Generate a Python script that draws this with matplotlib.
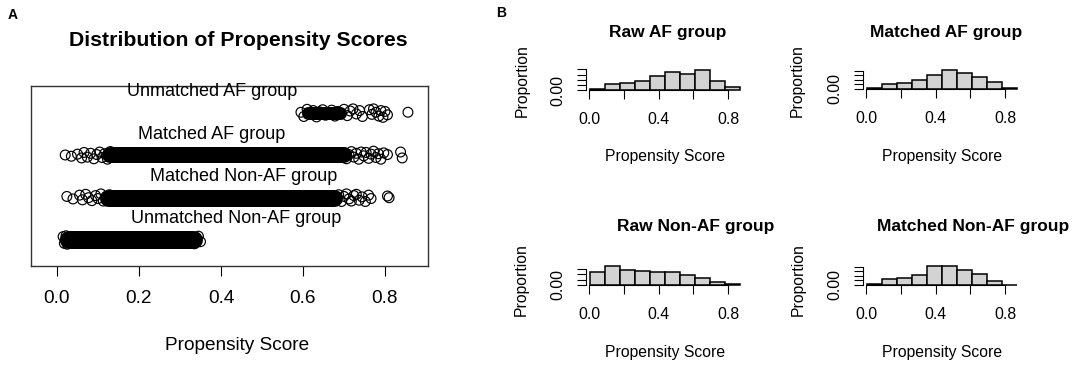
import numpy as np
import matplotlib
matplotlib.use("Agg")
import matplotlib.pyplot as plt

plt.rcParams["font.family"] = ["Liberation Sans", "DejaVu Sans"]

W, H = 1084, 367

# ---- panel A: jittered propensity scores ----
row_names = ["Unmatched Non-AF group", "Matched Non-AF group", "Matched AF group", "Unmatched AF group"]
label_x = [0.437, 0.456, 0.378, 0.378]

# solid (over-plotted) part of each strip, lo/hi
un_core = (0.03, 0.335)
mn_core = (0.125, 0.675)
ma_core = (0.13, 0.70)
ua_core = (0.612, 0.69)

# single circles that can still be told apart
un_x = [0.015, 0.018, 0.02, 0.022, 0.025, 0.33, 0.335, 0.34, 0.345, 0.35]
un_jit = [0.08, -0.08, 0.0, 0.1, -0.1, 0.07, -0.09, 0.02, 0.09, -0.04]

mn_x = [0.024, 0.039, 0.055, 0.062, 0.07, 0.077, 0.085, 0.094, 0.1, 0.107, 0.113, 0.12, 0.128, 0.136,
        0.68, 0.687, 0.694, 0.7, 0.706, 0.712, 0.718, 0.724, 0.73, 0.737, 0.744, 0.752, 0.76, 0.766,
        0.806, 0.81]
mn_jit = [0.03, -0.03, 0.06, -0.05, 0.08, 0.0, -0.07, 0.05, -0.02, 0.09, -0.08, 0.03, 0.07, -0.04,
          -0.05, 0.07, -0.09, 0.03, 0.09, -0.03, -0.08, 0.05, 0.08, -0.06, 0.02, -0.09, 0.06, -0.02,
          0.04, 0.0]

ma_x = [0.02, 0.035, 0.05, 0.06, 0.066, 0.074, 0.082, 0.09, 0.097, 0.104, 0.11, 0.116, 0.123, 0.13,
        0.137, 0.145,
        0.70, 0.706, 0.712, 0.718, 0.724, 0.73, 0.736, 0.742, 0.748, 0.754, 0.76, 0.766, 0.772, 0.778,
        0.784, 0.79, 0.797, 0.806, 0.838, 0.842]
ma_jit = [0.01, -0.02, 0.03, -0.06, 0.07, -0.04, 0.05, -0.08, 0.02, 0.08, -0.05, 0.04, -0.09, 0.09,
          -0.02, 0.06,
          0.06, -0.08, 0.02, 0.09, -0.04, 0.05, -0.09, 0.08, -0.01, 0.07, -0.07, 0.03, 0.1, -0.05,
          0.04, -0.09, 0.06, 0.02, 0.08, -0.06]

ua_x = [0.595, 0.602, 0.61, 0.618, 0.625, 0.633, 0.64, 0.648, 0.655, 0.662, 0.67, 0.678, 0.685, 0.692,
        0.70, 0.708, 0.715, 0.722, 0.73, 0.738, 0.745, 0.762, 0.768, 0.772, 0.778, 0.785, 0.79, 0.795,
        0.80, 0.806, 0.856]
ua_jit = [0.02, -0.08, 0.09, -0.03, 0.06, -0.09, 0.03, 0.08, -0.05, 0.0, 0.07, -0.07, 0.04, -0.02,
          0.09, -0.06, 0.05, 0.1, -0.02, 0.06, -0.08, 0.08, -0.03, 0.1, 0.02, -0.07, 0.06, -0.1,
          0.04, -0.04, 0.02]

# ---- panel B: histograms (proportion per bin) ----
bin_edges = [0.007, 0.093, 0.179, 0.264, 0.350, 0.436, 0.522, 0.607, 0.693, 0.779, 0.865]
raw_af = [0.013, 0.055, 0.065, 0.091, 0.133, 0.179, 0.156, 0.192, 0.091, 0.026]
matched_af = [0.011, 0.058, 0.069, 0.102, 0.156, 0.207, 0.178, 0.131, 0.080, 0.007]
raw_nonaf = [0.123, 0.176, 0.139, 0.130, 0.120, 0.120, 0.090, 0.068, 0.028, 0.006]
matched_nonaf = [0.014, 0.065, 0.076, 0.109, 0.207, 0.207, 0.163, 0.116, 0.040, 0.004]


def px_axes(fig, left, top, right, bottom):
    return fig.add_axes([left / W, 1 - bottom / H, (right - left) / W, (bottom - top) / H])


def ftext(fig, x, y, s, **kw):
    fig.text(x / W, 1 - y / H, s, ha="center", va="center", **kw)


def stripPanel(fig):
    ax = px_axes(fig, 31, 86, 428, 266)
    ax.set_xlim(-0.0634, 0.9049)
    ax.set_ylim(0.385, 4.641)

    cores = [un_core, mn_core, ma_core, ua_core]
    thick = [18, 17, 16, 13]  # px
    pts = [(un_x, un_jit), (mn_x, mn_jit), (ma_x, ma_jit), (ua_x, ua_jit)]
    for i in range(4):
        row = i + 1
        lo, hi = cores[i]
        ax.plot([lo, hi], [row, row], color="black", lw=thick[i] * 0.72, solid_capstyle="round")
        xs, js = pts[i]
        ax.scatter(xs, row + np.array(js), s=50, facecolors="none", edgecolors="black", linewidths=0.85)
        ax.text(label_x[i], row + 0.5, row_names[i], ha="center", va="center", fontsize=13)

    ax.set_xticks([0, 0.2, 0.4, 0.6, 0.8])
    ax.set_xticklabels(["0.0", "0.2", "0.4", "0.6", "0.8"])
    ax.set_yticks([])
    ax.tick_params(axis="x", length=7.2, width=0.8, labelsize=13.7, pad=10)
    for s in ax.spines.values():
        s.set_linewidth(1.0)
        s.set_color("#333333")

    ftext(fig, 238, 40, "Distribution of Propensity Scores", fontsize=15.3, fontweight="bold")
    ftext(fig, 237, 345, "Propensity Score", fontsize=13.7)
    ftext(fig, 12.5, 15, "A", fontsize=10, fontweight="bold")


def histPanel(fig, x0, base, yscale, ytop, props, title, tx, ty, xl_y, prop_x, prop_y):
    xl, xr = -0.02, 0.9
    ax = px_axes(fig, x0 + xl * 174, base - ytop * yscale, x0 + xr * 174, base)
    ax.bar(bin_edges[:-1], props, width=np.diff(bin_edges), align="edge", color="lightgray",
           edgecolor="black", linewidth=1.1, clip_on=False)
    ax.set_xlim(xl, xr)
    ax.set_ylim(0, ytop)

    ax.set_xticks([0, 0.2, 0.4, 0.6, 0.8])
    ax.set_xticklabels(["0.0", "", "0.4", "", "0.8"])
    yt = [0, 0.05, 0.1, 0.15, 0.2] if ytop > 0.16 else [0, 0.05, 0.1, 0.15]
    ax.set_yticks(yt)
    ax.set_yticklabels(["0.00"] + [""] * (len(yt) - 1), rotation=90, va="center")
    ax.tick_params(axis="both", length=6.5, width=0.8, labelsize=11.4)
    ax.tick_params(axis="x", pad=9.5)
    ax.tick_params(axis="y", pad=8)
    ax.spines["top"].set_visible(False)
    ax.spines["right"].set_visible(False)
    ax.spines["left"].set_bounds(0, yt[-1])
    ax.spines["bottom"].set_bounds(0, 0.8)
    ax.spines["left"].set_linewidth(0.8)
    ax.spines["bottom"].set_linewidth(0.8)

    ftext(fig, tx, ty, title, fontsize=12.5, fontweight="bold")
    ftext(fig, x0 + 76, xl_y, "Propensity Score", fontsize=11.3)
    ftext(fig, prop_x, prop_y, "Proportion", fontsize=11.3, rotation=90)


def plotDraw():
    fig = plt.figure(figsize=(W / 100, H / 100), dpi=100)
    stripPanel(fig)

    histPanel(fig, 589, 90, 102.7, 0.2, raw_af, "Raw AF group", 668, 32, 157, 522, 81)
    histPanel(fig, 866, 89, 91.7, 0.2, matched_af, "Matched AF group", 946, 32, 157, 797, 81)
    histPanel(fig, 589, 285, 108, 0.15, raw_nonaf, "Raw Non-AF group", 696, 227, 352, 521, 280)
    histPanel(fig, 866, 285, 92, 0.2, matched_nonaf, "Matched Non-AF group", 973, 227, 352, 798, 280)
    ftext(fig, 501, 13, "B", fontsize=10, fontweight="bold")

    fig.savefig("out.png", dpi=100)


if __name__ == "__main__":
    plotDraw()
